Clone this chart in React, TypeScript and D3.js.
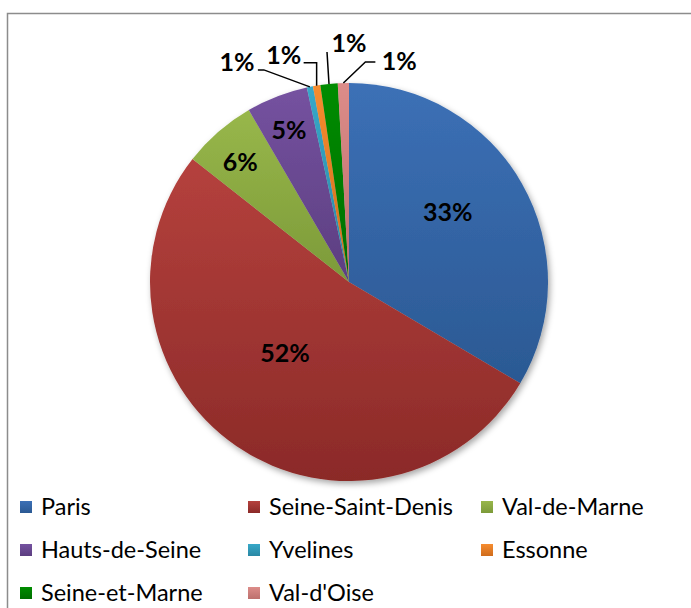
import React from "react";
import * as d3 from "d3";

// départements, share of total (%)
const departements = [
  "Paris",
  "Seine-Saint-Denis",
  "Val-de-Marne",
  "Hauts-de-Seine",
  "Yvelines",
  "Essonne",
  "Seine-et-Marne",
  "Val-d'Oise",
];
const shares = [33.5, 52.1, 6.0, 5.0, 0.5, 0.6, 1.4, 0.9];
const pctLabels = ["33%", "52%", "6%", "5%", "1%", "1%", "1%", "1%"];
const colorTop = ["#3c70b6", "#b5413d", "#98b74a", "#7552a0", "#37a8c8", "#f68c2f", "#008c00", "#dc8c89"];
const colorBottom = ["#2b5993", "#8b2a28", "#7c9a39", "#5c3e80", "#2a88a4", "#cf6c1c", "#006e00", "#bd706d"];

const W = 691;
const H = 608;
const CX = 349;
const CY = 282;
const R = 199;
const FONT = "Lato, 'Open Sans', sans-serif";

// label layout: inside slices use radius factor + small nudge, small slices get outside labels with leaders
const inside: Record<number, { k: number; dx: number; dy: number }> = {
  0: { k: 0.6, dx: -5, dy: -11 },
  1: { k: 0.48, dx: -10, dy: -8 },
  2: { k: 0.81, dx: -3, dy: 2 },
  3: { k: 0.82, dx: -1, dy: 0 },
};
const outside: Record<number, { lx: number; ly: number; pts: [number, number][] }> = {
  4: { lx: -73, ly: -25, pts: [[-52, -17], [-46, -17]] },
  5: { lx: -33, ly: -31, pts: [[-13, -23], [0, -23]] },
  6: { lx: 20, ly: -41, pts: [[-2, -32]] },
  7: { lx: 56, ly: -22, pts: [[32, -21], [22, -21]] },
};

export default function App() {
  const pie = d3.pie<number>().sort(null).value((d) => d);
  const arcs = pie(shares);
  const arc = d3.arc<d3.PieArcDatum<number>>().innerRadius(0).outerRadius(R);

  const edgePoint = (a: d3.PieArcDatum<number>) => {
    const m = (a.startAngle + a.endAngle) / 2;
    return [Math.sin(m) * R, -Math.cos(m) * R];
  };

  return (
    <svg
      width={W}
      height={H}
      style={{ position: "absolute", left: 0, top: 0, background: "#fff" }}
    >
      <defs>
        {departements.map((d, i) => (
          <linearGradient key={d} id={`g${i}`} x1="0" y1="0" x2="0" y2="1">
            <stop offset="0%" stopColor={colorTop[i]} />
            <stop offset="100%" stopColor={colorBottom[i]} />
          </linearGradient>
        ))}
        <filter id="shadow" x="-20%" y="-20%" width="140%" height="140%">
          <feDropShadow dx="2" dy="3" stdDeviation="3" floodColor="#000" floodOpacity="0.35" />
        </filter>
      </defs>

      <rect x={7.5} y={13.5} width={720} height={640} fill="#fff" stroke="#8c8c8c" strokeWidth={1.5} />

      <g transform={`translate(${CX},${CY})`}>
        <g filter="url(#shadow)">
          {arcs.map((a, i) => (
            <path key={departements[i]} d={arc(a) || ""} fill={`url(#g${i})`} />
          ))}
        </g>

        {arcs.map((a, i) => {
          const o = inside[i];
          if (!o) return null;
          const r = R * o.k;
          const [x, y] = d3.arc<d3.PieArcDatum<number>>().innerRadius(r).outerRadius(r).centroid(a);
          return (
            <text
              key={`l${i}`}
              x={x + o.dx}
              y={y + o.dy}
              textAnchor="middle"
              dy="0.36em"
              fontFamily={FONT}
              fontWeight={700}
              fontSize={25}
              fill="#000"
            >
              {pctLabels[i]}
            </text>
          );
        })}

        {arcs.map((a, i) => {
          const o = outside[i];
          if (!o) return null;
          const [ex, ey] = edgePoint(a);
          const pts = [...o.pts.map(([px, py]) => [ex + px, ey + py]), [ex, ey]];
          const line = d3.line()(pts as [number, number][]) || "";
          return (
            <g key={`o${i}`}>
              <path d={line} fill="none" stroke="#000" strokeWidth={1.5} />
              <text
                x={ex + o.lx}
                y={ey + o.ly}
                textAnchor="middle"
                dy="0.36em"
                fontFamily={FONT}
                fontWeight={700}
                fontSize={25}
                fill="#000"
              >
                {pctLabels[i]}
              </text>
            </g>
          );
        })}
      </g>

      <g fontFamily={FONT} fontSize={23.5} fill="#000">
        {departements.map((d, i) => {
          const col = i % 3;
          const row = Math.floor(i / 3);
          const x = [20, 248, 481][col];
          const y = 507 + row * 43;
          return (
            <g key={`leg${i}`} transform={`translate(${x},${y})`}>
              <rect x={0} y={-6} width={12} height={12} fill={`url(#g${i})`} />
              <text x={21} y={0} dy="0.35em">
                {d}
              </text>
            </g>
          );
        })}
      </g>
    </svg>
  );
}
